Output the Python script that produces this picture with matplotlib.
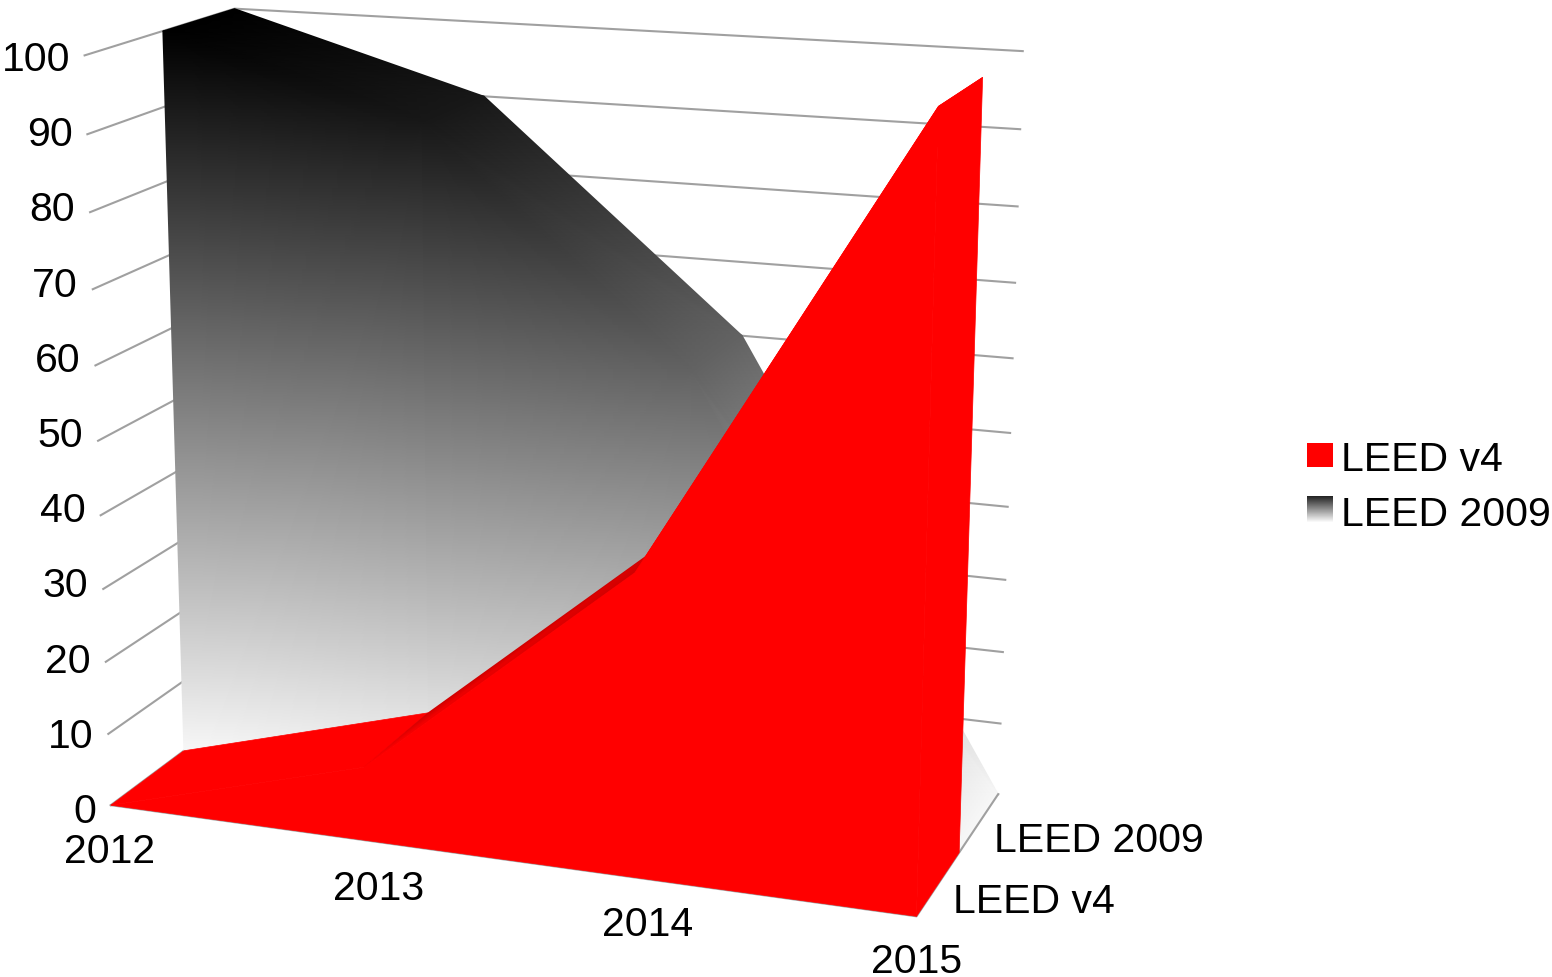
import numpy as np
import matplotlib
matplotlib.use("Agg")
import matplotlib.pyplot as plt
from matplotlib.colors import LinearSegmentedColormap
from matplotlib.patches import Polygon, Rectangle

years = ["2012", "2013", "2014", "2015"]
leed_v4 = [0, 10, 40, 100]
leed_2009 = [100, 90, 60, 0]
value_ticks = [0, 10, 20, 30, 40, 50, 60, 70, 80, 90, 100]
series_names = ["LEED v4", "LEED 2009"]

RED = "#ff0000"
GRID = "#a0a0a0"
INK = "#000000"
FONT = 29.5

plt.rcParams["font.family"] = ["Liberation Sans", "DejaVu Sans"]

# box corners (year index, depth, value) and where they land on the canvas,
# used to solve the camera of the 3D view
box_points = [
    (0, 0, 0), (3, 0, 0), (3, 1, 0), (3, 0.5, 0), (0, 0.5, 0),
    (0, 0, 100), (0, 0.5, 100), (0, 1, 100), (3, 1, 100), (3, 0, 100), (3, 0.5, 100),
    (0, 0, 10), (0, 0.5, 10), (3, 1, 50), (3, 1, 90),
]
canvas_points = [
    (111, 806), (917, 917), (998, 795), (959, 854), (183, 752),
    (85, 56), (162, 32), (235, 10), (1023, 52), (938, 108), (983, 78),
    (108, 735), (183, 683), (1010, 434), (1020, 130),
]


def solve_camera(world, screen):
    rows = []
    for (x, y, z), (u, v) in zip(world, screen):
        rows.append([x, y, z, 1, 0, 0, 0, 0, -u*x, -u*y, -u*z, -u])
        rows.append([0, 0, 0, 0, x, y, z, 1, -v*x, -v*y, -v*z, -v])
    return np.linalg.svd(np.array(rows, dtype=float))[2][-1].reshape(3, 4)


CAM = solve_camera(box_points, canvas_points)


def project(x, y, z):
    p = CAM @ np.array([x, y, z, 1.0])
    return p[0] / p[2], p[1] / p[2]


fig = plt.figure(figsize=(15.52, 9.78), dpi=100)
ax = fig.add_axes([0, 0, 1, 1])
ax.set_xlim(0, 1552)
ax.set_ylim(978, 0)
ax.axis("off")

grays = LinearSegmentedColormap.from_list("fade", ["#000000", "#f8f8f8"])
reds = LinearSegmentedColormap.from_list("crease", [RED, "#cf0000"])


def shaded_face(corners, vals, cmap, zorder):
    # fan of gouraud triangles, one colour value per corner
    pts = [project(*c) for c in corners]
    xs = [p[0] for p in pts]
    ys = [p[1] for p in pts]
    tris = [[0, i, i + 1] for i in range(1, len(pts) - 1)]
    ax.tripcolor(xs, ys, tris, vals, shading="gouraud", cmap=cmap,
                 vmin=0, vmax=100, zorder=zorder)


def flat_face(corners, color, zorder):
    ax.add_patch(Polygon([project(*c) for c in corners], closed=True, fc=color,
                         ec=color, lw=0.5, zorder=zorder))


def value_face(corners, zorder):
    shaded_face(corners, [100 - c[2] for c in corners], grays, zorder)


# gridlines on the side wall and the back wall
for v in value_ticks:
    line = [project(0, 0, v), project(0, 1, v), project(3, 1, v)]
    ax.plot([p[0] for p in line], [p[1] for p in line], color=GRID, lw=1.5, zorder=1)

# LEED 2009 sits in the back half of the depth
for i in range(3):
    value_face([(i, 0.5, leed_2009[i]), (i, 1, leed_2009[i]),
                (i + 1, 1, leed_2009[i + 1]), (i + 1, 0.5, leed_2009[i + 1])], 2)
for i in range(3):
    value_face([(i, 0.5, 0), (i, 0.5, leed_2009[i]),
                (i + 1, 0.5, leed_2009[i + 1]), (i + 1, 0.5, 0)], 3)

# floor outline
floor = [project(0, 0, 0), project(3, 0, 0), project(3, 1, 0)]
ax.plot([p[0] for p in floor], [p[1] for p in floor], color=GRID, lw=1.5, zorder=3.5)

# LEED v4 in the front half, solid red with a darker slope for 2013-2014
for i in [0, 2]:
    flat_face([(i, 0, leed_v4[i]), (i, 0.5, leed_v4[i]),
               (i + 1, 0.5, leed_v4[i + 1]), (i + 1, 0, leed_v4[i + 1])], RED, 4)
shaded_face([(1, 0, leed_v4[1]), (1, 0.5, leed_v4[1]),
             (2, 0.5, leed_v4[2]), (2, 0, leed_v4[2])], [0, 100, 100, 100], reds, 4)
flat_face([(3, 0, 0), (3, 0.5, 0), (3, 0.5, leed_v4[3]), (3, 0, leed_v4[3])], RED, 4)
front = [(i, 0, leed_v4[i]) for i in range(4)] + [(3, 0, 0), (0, 0, 0)]
flat_face(front, RED, 5)

# axis labels run evenly, they do not follow the perspective
label_right = np.linspace(96, 70, len(value_ticks))
label_y = np.linspace(812, 60, len(value_ticks))
for v, lx, ly in zip(value_ticks, label_right, label_y):
    ax.text(lx, ly, str(v), fontsize=FONT, ha="right", va="center", color=INK)
year_x = np.linspace(110, 917, len(years))
year_y = np.linspace(852, 962, len(years))
for y, lx, ly in zip(years, year_x, year_y):
    ax.text(lx, ly, y, fontsize=FONT, ha="center", va="center", color=INK)
for name, lx, ly in zip(series_names, [953, 994], [902, 841]):
    ax.text(lx, ly, name, fontsize=FONT, ha="left", va="center", color=INK)

# legend
ax.add_patch(Rectangle((1307, 444), 26, 24, fc=RED, ec="none"))
ax.pcolormesh([1307, 1333], np.linspace(497, 523, 27),
              np.linspace(15, 100, 26).reshape(-1, 1), cmap=grays, vmin=0, vmax=100)
ax.text(1341, 460, series_names[0], fontsize=FONT, ha="left", va="center", color=INK)
ax.text(1341, 515, series_names[1], fontsize=FONT, ha="left", va="center", color=INK)

plt.savefig("out.png", dpi=100)
